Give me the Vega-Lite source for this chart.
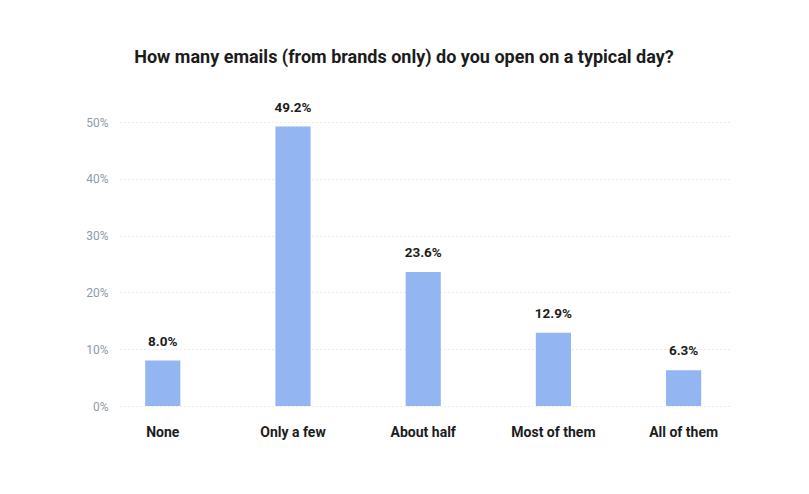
{
  "$schema": "https://vega.github.io/schema/vega-lite/v6.json",
  "autosize": "none",
  "width": 612,
  "height": 284,
  "padding": {"left": 120, "top": 122, "right": 77, "bottom": 88},
  "background": "white",
  "config": {"font": "Roboto", "view": {"stroke": null}},
  "title": {
    "text": "How many emails (from brands only) do you open on a typical day?",
    "fontSize": 18,
    "fontWeight": "bold",
    "color": "#1c1c1c",
    "anchor": "middle",
    "dx": -22,
    "offset": 34
  },
  "data": {
    "values": [
      {"answer": "None", "share": 0.080},
      {"answer": "Only a few", "share": 0.492},
      {"answer": "About half", "share": 0.236},
      {"answer": "Most of them", "share": 0.129},
      {"answer": "All of them", "share": 0.063}
    ]
  },
  "encoding": {
    "x": {
      "field": "answer",
      "type": "nominal",
      "sort": null,
      "scale": {"paddingInner": 0.73, "paddingOuter": 0.215, "align": 0.45},
      "axis": {
        "title": null,
        "labelAngle": 0,
        "labelFont": "Roboto",
        "labelFontSize": 14,
        "labelFontWeight": "bold",
        "labelColor": "#1c1c1c",
        "labelPadding": 19,
        "ticks": false,
        "domain": false
      }
    },
    "y": {
      "field": "share",
      "type": "quantitative",
      "scale": {"domain": [0, 0.5], "nice": false},
      "axis": {
        "title": null,
        "format": ".0%",
        "values": [0, 0.1, 0.2, 0.3, 0.4, 0.5],
        "labelFontSize": 12,
        "labelColor": "#8e9aa6",
        "labelPadding": 12,
        "ticks": false,
        "domain": false,
        "grid": true,
        "gridColor": "#d9d9d9",
        "gridDash": [1, 3],
        "gridWidth": 1
      }
    }
  },
  "layer": [
    {"mark": {"type": "bar", "color": "#93b5f2"}},
    {
      "mark": {
        "type": "text",
        "baseline": "bottom",
        "dy": -12,
        "fontSize": 13.5,
        "fontWeight": "bold",
        "color": "#1c1c1c"
      },
      "encoding": {"text": {"field": "share", "format": ".1%"}}
    }
  ]
}
